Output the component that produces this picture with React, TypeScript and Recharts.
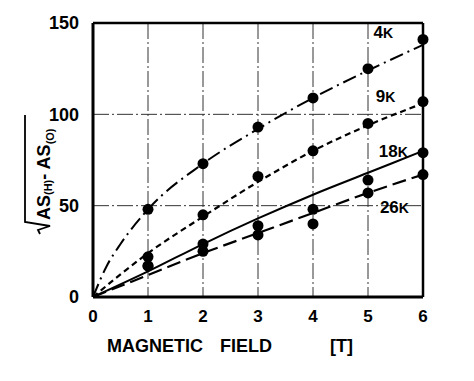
import * as React from 'react';
import { ComposedChart, Line, Scatter, XAxis, YAxis, CartesianGrid, ReferenceLine, ReferenceDot } from 'recharts';

const xTicks = [0, 1, 2, 3, 4, 5, 6];
const yTicks = [0, 50, 100, 150];

// measured points (field in T, value)
const pts4K = [{ x: 1, y: 48 }, { x: 2, y: 73 }, { x: 3, y: 93 }, { x: 4, y: 109 }, { x: 5, y: 125 }, { x: 6, y: 141 }];
const pts9K = [{ x: 1, y: 22 }, { x: 2, y: 45 }, { x: 3, y: 66 }, { x: 4, y: 80 }, { x: 5, y: 95 }, { x: 6, y: 107 }];
const pts18K = [{ x: 1, y: 17 }, { x: 2, y: 29 }, { x: 3, y: 39 }, { x: 4, y: 48 }, { x: 5, y: 64 }, { x: 6, y: 79 }];
const pts26K = [{ x: 1, y: 17 }, { x: 2, y: 25 }, { x: 3, y: 34 }, { x: 4, y: 40 }, { x: 5, y: 57 }, { x: 6, y: 67 }];

// fitted curves
const fit4K = [{ x: 0, y: 0 }, { x: 0.25, y: 17 }, { x: 0.5, y: 29 }, { x: 1, y: 48 }, { x: 2, y: 73 }, { x: 3, y: 92 }, { x: 4, y: 109 }, { x: 5, y: 124 }, { x: 6, y: 138 }];
const fit9K = [{ x: 0, y: 0 }, { x: 1, y: 24 }, { x: 2, y: 44 }, { x: 3, y: 63 }, { x: 4, y: 80 }, { x: 5, y: 94 }, { x: 6, y: 106 }];
const fit18K = [{ x: 0, y: 0 }, { x: 1, y: 14 }, { x: 2, y: 29 }, { x: 3, y: 43 }, { x: 4, y: 56 }, { x: 5, y: 68 }, { x: 6, y: 80 }];
const fit26K = [{ x: 0, y: 0 }, { x: 1, y: 12 }, { x: 2, y: 24 }, { x: 3, y: 35 }, { x: 4, y: 46 }, { x: 5, y: 57 }, { x: 6, y: 67 }];

const curveLabels = [
  { num: '4', x: 5.28, y: 145 },
  { num: '9', x: 5.32, y: 110 },
  { num: '18', x: 5.46, y: 80 },
  { num: '26', x: 5.48, y: 49 },
];

const FONT = '"Liberation Sans", Arial, sans-serif';

const Dot = (props: any) => <circle cx={props.cx} cy={props.cy} r={5.5} fill="#000" />;

const CurveLabel = (num: string) => (props: any) => {
  const { viewBox } = props;
  const cx = viewBox.x + (viewBox.width || 0) / 2;
  const cy = viewBox.y + (viewBox.height || 0) / 2;
  return (
    <text x={cx} y={cy + 6} textAnchor="middle" fontFamily={FONT} fontWeight="bold" fontSize={17} fill="#000">
      {num}
      <tspan fontSize={14}>K</tspan>
    </text>
  );
};

export default function App() {
  return (
    <div style={{ position: 'absolute', left: 0, top: 0, width: 474, height: 381, background: '#fff' }}>
      <ComposedChart width={474} height={381} margin={{ top: 23, right: 51, left: 33, bottom: 54 }}>
        <CartesianGrid stroke="#333" strokeDasharray="16 3 2 3" strokeWidth={1} />
        <XAxis
          type="number"
          dataKey="x"
          domain={[0, 6]}
          ticks={xTicks}
          height={30}
          tickLine={false}
          axisLine={{ stroke: '#000', strokeWidth: 3 }}
          tickMargin={7}
          tick={{ fontFamily: FONT, fontWeight: 'bold', fontSize: 17, fill: '#000' }}
        />
        <YAxis
          type="number"
          dataKey="y"
          domain={[0, 150]}
          ticks={yTicks}
          width={60}
          tickLine={false}
          axisLine={{ stroke: '#000', strokeWidth: 3 }}
          tickMargin={8}
          tick={{ fontFamily: FONT, fontWeight: 'bold', fontSize: 18, fill: '#000' }}
        />
        <ReferenceLine y={150} stroke="#000" strokeWidth={2.5} />
        <ReferenceLine x={6} stroke="#000" strokeWidth={2.5} />
        <Line data={fit4K} dataKey="y" type="monotone" stroke="#000" strokeWidth={2} strokeDasharray="14 5 2 5" dot={false} isAnimationActive={false} />
        <Line data={fit9K} dataKey="y" type="monotone" stroke="#000" strokeWidth={2.2} strokeDasharray="6 4" dot={false} isAnimationActive={false} />
        <Line data={fit18K} dataKey="y" type="monotone" stroke="#000" strokeWidth={2} dot={false} isAnimationActive={false} />
        <Line data={fit26K} dataKey="y" type="monotone" stroke="#000" strokeWidth={2.2} strokeDasharray="14 6" dot={false} isAnimationActive={false} />
        <Scatter data={pts4K} dataKey="y" shape={Dot} isAnimationActive={false} />
        <Scatter data={pts9K} dataKey="y" shape={Dot} isAnimationActive={false} />
        <Scatter data={pts18K} dataKey="y" shape={Dot} isAnimationActive={false} />
        <Scatter data={pts26K} dataKey="y" shape={Dot} isAnimationActive={false} />
        {curveLabels.map(l => (
          <ReferenceDot key={l.num} x={l.x} y={l.y} r={0} stroke="none" fill="none" label={CurveLabel(l.num)} />
        ))}
      </ComposedChart>
      <svg width={474} height={381} style={{ position: 'absolute', left: 0, top: 0, pointerEvents: 'none' }}>
        <g transform="translate(50, 240) rotate(-90)" fontFamily={FONT} fontWeight="bold" fill="#000">
          <text x={20} y={0} fontSize={18}>
            AS<tspan fontSize={11} dy={2}>(H)</tspan>
            <tspan fontSize={18} dy={-2}>- AS</tspan>
            <tspan fontSize={11} dy={4}>(O)</tspan>
          </text>
          <path d="M 6 -10 L 10 -12 L 14 0 L 18 -25 L 125 -25" fill="none" stroke="#000" strokeWidth={1.8} />
        </g>
        <g fontFamily={FONT} fontWeight="bold" fontSize={18} fill="#000">
          <text x={107} y={352}>MAGNETIC</text>
          <text x={220} y={352}>FIELD</text>
          <text x={330} y={352}>[T]</text>
        </g>
      </svg>
    </div>
  );
}
